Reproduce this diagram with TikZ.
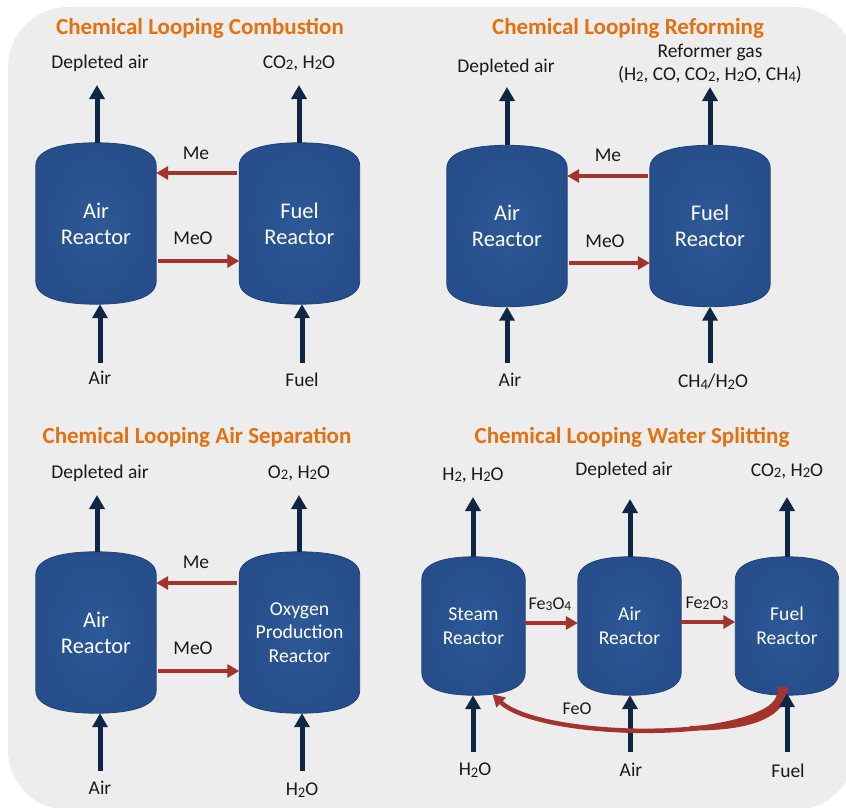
\documentclass[tikz,border=0pt]{standalone}
\usepackage{fontspec}
\setmainfont{Carlito}
\usepackage{graphicx}
\usetikzlibrary{arrows.meta,calc}
\definecolor{bgc}{HTML}{EDEDED}
\definecolor{navy}{HTML}{0F2644}
\definecolor{redA}{HTML}{A3332D}
\definecolor{ttlc}{HTML}{E4700F}
\definecolor{vesc}{HTML}{2D5997}
\definecolor{vesd}{HTML}{264E8A}
\definecolor{vesrim}{HTML}{1F4274}
\definecolor{txt}{HTML}{1A1A1A}
\pgfdeclarelayer{back}\pgfdeclarelayer{mid}\pgfsetlayers{back,mid,main}
\newcommand\sbs[1]{\raisebox{-0.08em}{\scalebox{0.75}{#1}}}
\newcommand\vessel[4]{%
  \node[#3] (#1) at (#2) {#4};
  \begin{pgfonlayer}{mid}
  \shade[inner color=vesc, outer color=vesd, draw=vesrim, line width=0.8pt]
    ([yshift=-23pt]#1.north west) .. controls ([yshift=-5pt]#1.north west) and ($(#1.north west)!0.25!(#1.north east)$) .. (#1.north)
    .. controls ($(#1.north west)!0.75!(#1.north east)$) and ([yshift=-5pt]#1.north east) .. ([yshift=-23pt]#1.north east)
    -- ([yshift=23pt]#1.south east) .. controls ([yshift=5pt]#1.south east) and ($(#1.south west)!0.75!(#1.south east)$) .. (#1.south)
    .. controls ($(#1.south west)!0.25!(#1.south east)$) and ([yshift=5pt]#1.south west) .. ([yshift=23pt]#1.south west) -- cycle;
  \end{pgfonlayer}}
\tikzset{
  ttl/.style={text=ttlc, font=\bfseries\fontsize{23}{26}\selectfont, inner sep=0pt},
  lbl/.style={text=txt, font=\fontsize{19.5}{23}\selectfont, inner sep=0pt, align=center},
  slbl/.style={text=txt, font=\fontsize{18}{21}\selectfont, inner sep=0pt},
  vbig/.style={minimum width=120pt, minimum height=161pt, inner sep=0pt, text=white, align=center, font=\fontsize{22.4}{26}\selectfont},
  vmid/.style={minimum width=120pt, minimum height=161pt, inner sep=0pt, text=white, align=center, font=\fontsize{19.7}{23.5}\selectfont},
  vsmall/.style={minimum width=103pt, minimum height=138pt, inner sep=0pt, text=white, align=center, font=\fontsize{19.6}{24}\selectfont},
  navyarrow/.style={draw=navy, line width=5pt, -{Triangle[width=15pt,length=14pt]}},
  redarrow/.style={draw=redA, line width=4.5pt, -{Triangle[width=13pt,length=12pt]}},
}
\begin{document}
\begin{tikzpicture}[x=1pt,y=-1pt]
\useasboundingbox (0,0) rectangle (846,808);
\begin{pgfonlayer}{back}
\fill[bgc, rounded corners=60pt] (8,7) rectangle (855,810);
\end{pgfonlayer}

% ---------- Panel 1: Combustion ----------
\node[ttl] (t1) at (200,28) {Chemical Looping Combustion};
\vessel{a1}{96,223.5}{vbig}{Air\\Reactor}
\vessel{f1}{299.5,223.5}{vbig}{Fuel\\Reactor}
\node[lbl] (l1a) at (100,63) {Depleted air};
\node[lbl] (l1b) at (299,63) {CO\sbs{2}, H\sbs{2}O};
\node[lbl] (l1c) at (100,378) {Air};
\node[lbl] (l1d) at (302,380) {Fuel};
\node[lbl] (l1e) at (196,153) {Me};
\node[lbl] (l1f) at (193,238) {MeO};
\coordinate (o1a) at (97,85);
\coordinate (o1b) at (299,85);
\coordinate (i1a) at (100,363);
\coordinate (i1b) at (302,363);
\draw[navyarrow] (a1.north -| o1a) -- (o1a);
\draw[navyarrow] (f1.north -| o1b) -- (o1b);
\draw[navyarrow] (i1a) -- (i1a |- a1.south);
\draw[navyarrow] (i1b) -- (i1b |- f1.south);
\draw[redarrow] ([xshift=-2pt]f1.west |- 0,173) -- (a1.east |- 0,173);
\draw[redarrow] ([xshift=2pt]a1.east |- 0,261) -- (f1.west |- 0,261);

% ---------- Panel 2: Reforming ----------
\node[ttl] (t2) at (628,28) {Chemical Looping Reforming};
\vessel{a2}{507,226}{vbig}{Air\\Reactor}
\vessel{f2}{710,226}{vbig}{Fuel\\Reactor}
\node[lbl] (l2a) at (506,67) {Depleted air};
\node[lbl] (l2b) at (710,63.5) {Reformer gas\\(H\sbs{2}, CO, CO\sbs{2}, H\sbs{2}O, CH\sbs{4})};
\node[lbl] (l2c) at (510,380) {Air};
\node[lbl] (l2d) at (713,382) {CH\sbs{4}/H\sbs{2}O};
\node[lbl] (l2e) at (608,155) {Me};
\node[lbl] (l2f) at (605,241) {MeO};
\coordinate (o2a) at (507,87);
\coordinate (o2b) at (710,87);
\coordinate (i2a) at (507,363);
\coordinate (i2b) at (710,363);
\draw[navyarrow] (a2.north -| o2a) -- (o2a);
\draw[navyarrow] (f2.north -| o2b) -- (o2b);
\draw[navyarrow] (i2a) -- (i2a |- a2.south);
\draw[navyarrow] (i2b) -- (i2b |- f2.south);
\draw[redarrow] ([xshift=-2pt]f2.west |- 0,176) -- (a2.east |- 0,176);
\draw[redarrow] ([xshift=2pt]a2.east |- 0,263) -- (f2.west |- 0,263);

% ---------- Panel 3: Air separation ----------
\node[ttl] (t3) at (197,437) {Chemical Looping Air Separation};
\vessel{a3}{96,632.5}{vbig}{Air\\Reactor}
\vessel{o3}{299.5,632.5}{vmid}{Oxygen\\Production\\Reactor}
\node[lbl] (l3a) at (100,473) {Depleted air};
\node[lbl] (l3b) at (299,473) {O\sbs{2}, H\sbs{2}O};
\node[lbl] (l3c) at (100,788) {Air};
\node[lbl] (l3d) at (302,790) {H\sbs{2}O};
\node[lbl] (l3e) at (196,562) {Me};
\node[lbl] (l3f) at (193,648) {MeO};
\coordinate (o3a) at (97,495);
\coordinate (o3b) at (299,495);
\coordinate (i3a) at (100,771);
\coordinate (i3b) at (302,771);
\draw[navyarrow] (a3.north -| o3a) -- (o3a);
\draw[navyarrow] (o3.north -| o3b) -- (o3b);
\draw[navyarrow] (i3a) -- (i3a |- a3.south);
\draw[navyarrow] (i3b) -- (i3b |- o3.south);
\draw[redarrow] ([xshift=-2pt]o3.west |- 0,583) -- (a3.east |- 0,583);
\draw[redarrow] ([xshift=2pt]a3.east |- 0,671) -- (o3.west |- 0,671);

% ---------- Panel 4: Water splitting ----------
\node[ttl] (t4) at (632,437) {Chemical Looping Water Splitting};
\vessel{s4}{473.5,626}{vsmall}{Steam\\Reactor}
\vessel{a4}{629.5,626}{vsmall}{Air\\Reactor}
\vessel{f4}{787,626}{vsmall}{Fuel\\Reactor}
\node[lbl] (l4a) at (473,475) {H\sbs{2}, H\sbs{2}O};
\node[lbl] (l4b) at (624,470) {Depleted air};
\node[lbl] (l4c) at (787,471) {CO\sbs{2}, H\sbs{2}O};
\node[lbl] (l4d) at (475,770) {H\sbs{2}O};
\node[lbl] (l4e) at (631,770) {Air};
\node[lbl] (l4f) at (788,771) {Fuel};
\node[slbl] (l4g) at (550,604) {Fe\sbs{3}O\sbs{4}};
\node[slbl] (l4h) at (707,603) {Fe\sbs{2}O\sbs{3}};
\node[slbl] (l4i) at (577,709) {FeO};
\coordinate (o4a) at (473,497);
\coordinate (o4b) at (630,499);
\coordinate (o4c) at (787,497);
\coordinate (i4a) at (473,752);
\coordinate (i4b) at (630,752);
\coordinate (i4c) at (787,752);
\draw[navyarrow] (s4.north -| o4a) -- (o4a);
\draw[navyarrow] (a4.north -| o4b) -- (o4b);
\draw[navyarrow] (f4.north -| o4c) -- (o4c);
\draw[navyarrow] (i4a) -- (i4a |- s4.south);
\draw[navyarrow] (i4b) -- (i4b |- a4.south);
\draw[redarrow] (s4.east |- 0,623) -- (a4.west |- 0,623);
\draw[redarrow] (a4.east |- 0,622) -- (f4.west |- 0,622);
% FeO return: thick start tapering toward the steam reactor
\fill[redA] (788,687) .. controls (787,722) and (740,731) .. (690,730.5) -- (690,726) .. controls (740,725) and (779,712) .. (778,687) -- cycle;
\draw[redarrow] ([xshift=-4pt,yshift=6pt]f4.south) .. controls (775,745) and (540,740) .. ([xshift=19pt,yshift=1pt]s4.south);
\draw[navyarrow] (i4c) -- ([yshift=2pt]i4c |- f4.south);
\end{tikzpicture}
\end{document}
